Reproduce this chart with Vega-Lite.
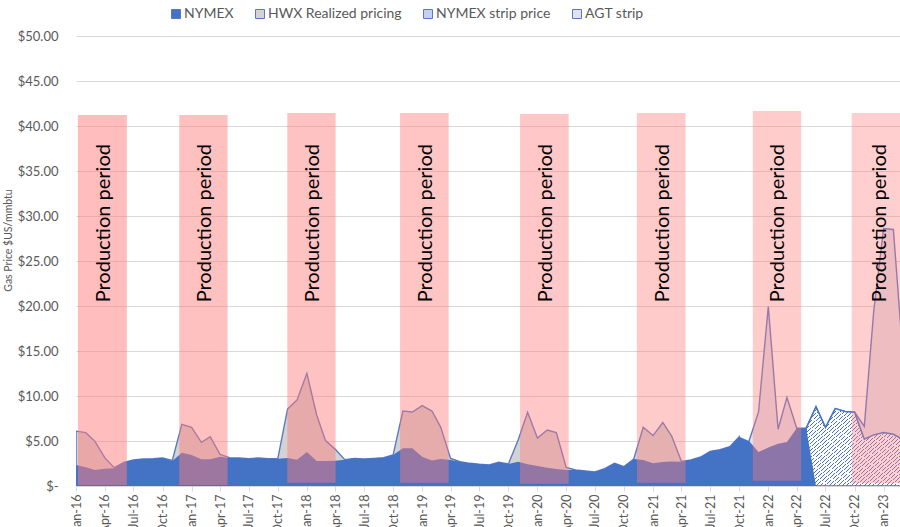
{
  "$schema": "https://vega.github.io/schema/vega-lite/v6.json",
  "width": 824,
  "height": 450,
  "autosize": {"type": "none"},
  "padding": {"left": 76, "top": 36, "right": 0, "bottom": 41},
  "background": "white",
  "config": {
    "view": {"stroke": null},
    "font": "Lato",
    "axis": {"labelFont": "Lato", "titleFont": "Lato", "labelColor": "#595959", "titleColor": "#595959"}
  },
  "datasets": {
    "prices": [
      {"month": "2016-01-01", "series": "NYMEX", "price": 2.33},
      {"month": "2016-02-01", "series": "NYMEX", "price": 2.07},
      {"month": "2016-03-01", "series": "NYMEX", "price": 1.78},
      {"month": "2016-04-01", "series": "NYMEX", "price": 1.93},
      {"month": "2016-05-01", "series": "NYMEX", "price": 1.96},
      {"month": "2016-06-01", "series": "NYMEX", "price": 2.63},
      {"month": "2016-07-01", "series": "NYMEX", "price": 2.89},
      {"month": "2016-08-01", "series": "NYMEX", "price": 3.0},
      {"month": "2016-09-01", "series": "NYMEX", "price": 3.04},
      {"month": "2016-10-01", "series": "NYMEX", "price": 3.11},
      {"month": "2016-11-01", "series": "NYMEX", "price": 2.78},
      {"month": "2016-12-01", "series": "NYMEX", "price": 3.7},
      {"month": "2017-01-01", "series": "NYMEX", "price": 3.44},
      {"month": "2017-02-01", "series": "NYMEX", "price": 2.96},
      {"month": "2017-03-01", "series": "NYMEX", "price": 2.96},
      {"month": "2017-04-01", "series": "NYMEX", "price": 3.26},
      {"month": "2017-05-01", "series": "NYMEX", "price": 3.11},
      {"month": "2017-06-01", "series": "NYMEX", "price": 3.11},
      {"month": "2017-07-01", "series": "NYMEX", "price": 3.04},
      {"month": "2017-08-01", "series": "NYMEX", "price": 3.11},
      {"month": "2017-09-01", "series": "NYMEX", "price": 3.04},
      {"month": "2017-10-01", "series": "NYMEX", "price": 3.04},
      {"month": "2017-11-01", "series": "NYMEX", "price": 3.1},
      {"month": "2017-12-01", "series": "NYMEX", "price": 2.93},
      {"month": "2018-01-01", "series": "NYMEX", "price": 3.78},
      {"month": "2018-02-01", "series": "NYMEX", "price": 2.78},
      {"month": "2018-03-01", "series": "NYMEX", "price": 2.78},
      {"month": "2018-04-01", "series": "NYMEX", "price": 2.8},
      {"month": "2018-05-01", "series": "NYMEX", "price": 2.93},
      {"month": "2018-06-01", "series": "NYMEX", "price": 3.07},
      {"month": "2018-07-01", "series": "NYMEX", "price": 3.0},
      {"month": "2018-08-01", "series": "NYMEX", "price": 3.07},
      {"month": "2018-09-01", "series": "NYMEX", "price": 3.15},
      {"month": "2018-10-01", "series": "NYMEX", "price": 3.44},
      {"month": "2018-11-01", "series": "NYMEX", "price": 4.19},
      {"month": "2018-12-01", "series": "NYMEX", "price": 4.19},
      {"month": "2019-01-01", "series": "NYMEX", "price": 3.26},
      {"month": "2019-02-01", "series": "NYMEX", "price": 2.82},
      {"month": "2019-03-01", "series": "NYMEX", "price": 3.0},
      {"month": "2019-04-01", "series": "NYMEX", "price": 2.89},
      {"month": "2019-05-01", "series": "NYMEX", "price": 2.7},
      {"month": "2019-06-01", "series": "NYMEX", "price": 2.52},
      {"month": "2019-07-01", "series": "NYMEX", "price": 2.41},
      {"month": "2019-08-01", "series": "NYMEX", "price": 2.33},
      {"month": "2019-09-01", "series": "NYMEX", "price": 2.63},
      {"month": "2019-10-01", "series": "NYMEX", "price": 2.44},
      {"month": "2019-11-01", "series": "NYMEX", "price": 2.7},
      {"month": "2019-12-01", "series": "NYMEX", "price": 2.41},
      {"month": "2020-01-01", "series": "NYMEX", "price": 2.22},
      {"month": "2020-02-01", "series": "NYMEX", "price": 2.04},
      {"month": "2020-03-01", "series": "NYMEX", "price": 1.89},
      {"month": "2020-04-01", "series": "NYMEX", "price": 1.78},
      {"month": "2020-05-01", "series": "NYMEX", "price": 1.78},
      {"month": "2020-06-01", "series": "NYMEX", "price": 1.67},
      {"month": "2020-07-01", "series": "NYMEX", "price": 1.56},
      {"month": "2020-08-01", "series": "NYMEX", "price": 1.93},
      {"month": "2020-09-01", "series": "NYMEX", "price": 2.52},
      {"month": "2020-10-01", "series": "NYMEX", "price": 2.15},
      {"month": "2020-11-01", "series": "NYMEX", "price": 3.0},
      {"month": "2020-12-01", "series": "NYMEX", "price": 2.89},
      {"month": "2021-01-01", "series": "NYMEX", "price": 2.52},
      {"month": "2021-02-01", "series": "NYMEX", "price": 2.67},
      {"month": "2021-03-01", "series": "NYMEX", "price": 2.72},
      {"month": "2021-04-01", "series": "NYMEX", "price": 2.7},
      {"month": "2021-05-01", "series": "NYMEX", "price": 2.89},
      {"month": "2021-06-01", "series": "NYMEX", "price": 3.22},
      {"month": "2021-07-01", "series": "NYMEX", "price": 3.85},
      {"month": "2021-08-01", "series": "NYMEX", "price": 4.03},
      {"month": "2021-09-01", "series": "NYMEX", "price": 4.37},
      {"month": "2021-10-01", "series": "NYMEX", "price": 5.48},
      {"month": "2021-11-01", "series": "NYMEX", "price": 5.0},
      {"month": "2021-12-01", "series": "NYMEX", "price": 3.78},
      {"month": "2022-01-01", "series": "NYMEX", "price": 4.28},
      {"month": "2022-02-01", "series": "NYMEX", "price": 4.7},
      {"month": "2022-03-01", "series": "NYMEX", "price": 4.9},
      {"month": "2022-04-01", "series": "NYMEX", "price": 6.41},
      {"month": "2022-05-01", "series": "NYMEX", "price": 6.41},
      {"month": "2022-06-01", "series": "NYMEX", "price": 0},

      {"month": "2016-01-01", "series": "HWX Realized pricing", "price": 6.1},
      {"month": "2016-02-01", "series": "HWX Realized pricing", "price": 5.93},
      {"month": "2016-03-01", "series": "HWX Realized pricing", "price": 4.96},
      {"month": "2016-04-01", "series": "HWX Realized pricing", "price": 3.15},
      {"month": "2016-05-01", "series": "HWX Realized pricing", "price": 2.04},
      {"month": "2016-06-01", "series": "HWX Realized pricing", "price": 2.63},
      {"month": "2016-07-01", "series": "HWX Realized pricing", "price": 2.89},
      {"month": "2016-08-01", "series": "HWX Realized pricing", "price": 3.0},
      {"month": "2016-09-01", "series": "HWX Realized pricing", "price": 3.04},
      {"month": "2016-10-01", "series": "HWX Realized pricing", "price": 3.11},
      {"month": "2016-11-01", "series": "HWX Realized pricing", "price": 2.85},
      {"month": "2016-12-01", "series": "HWX Realized pricing", "price": 6.85},
      {"month": "2017-01-01", "series": "HWX Realized pricing", "price": 6.52},
      {"month": "2017-02-01", "series": "HWX Realized pricing", "price": 4.85},
      {"month": "2017-03-01", "series": "HWX Realized pricing", "price": 5.48},
      {"month": "2017-04-01", "series": "HWX Realized pricing", "price": 3.52},
      {"month": "2017-05-01", "series": "HWX Realized pricing", "price": 3.15},
      {"month": "2017-06-01", "series": "HWX Realized pricing", "price": 3.11},
      {"month": "2017-07-01", "series": "HWX Realized pricing", "price": 3.04},
      {"month": "2017-08-01", "series": "HWX Realized pricing", "price": 3.11},
      {"month": "2017-09-01", "series": "HWX Realized pricing", "price": 3.04},
      {"month": "2017-10-01", "series": "HWX Realized pricing", "price": 3.04},
      {"month": "2017-11-01", "series": "HWX Realized pricing", "price": 8.56},
      {"month": "2017-12-01", "series": "HWX Realized pricing", "price": 9.56},
      {"month": "2018-01-01", "series": "HWX Realized pricing", "price": 12.52},
      {"month": "2018-02-01", "series": "HWX Realized pricing", "price": 7.89},
      {"month": "2018-03-01", "series": "HWX Realized pricing", "price": 5.04},
      {"month": "2018-04-01", "series": "HWX Realized pricing", "price": 4.07},
      {"month": "2018-05-01", "series": "HWX Realized pricing", "price": 2.93},
      {"month": "2018-06-01", "series": "HWX Realized pricing", "price": 3.07},
      {"month": "2018-07-01", "series": "HWX Realized pricing", "price": 3.0},
      {"month": "2018-08-01", "series": "HWX Realized pricing", "price": 3.07},
      {"month": "2018-09-01", "series": "HWX Realized pricing", "price": 3.15},
      {"month": "2018-10-01", "series": "HWX Realized pricing", "price": 3.44},
      {"month": "2018-11-01", "series": "HWX Realized pricing", "price": 8.33},
      {"month": "2018-12-01", "series": "HWX Realized pricing", "price": 8.22},
      {"month": "2019-01-01", "series": "HWX Realized pricing", "price": 8.93},
      {"month": "2019-02-01", "series": "HWX Realized pricing", "price": 8.33},
      {"month": "2019-03-01", "series": "HWX Realized pricing", "price": 6.52},
      {"month": "2019-04-01", "series": "HWX Realized pricing", "price": 3.07},
      {"month": "2019-05-01", "series": "HWX Realized pricing", "price": 2.7},
      {"month": "2019-06-01", "series": "HWX Realized pricing", "price": 2.52},
      {"month": "2019-07-01", "series": "HWX Realized pricing", "price": 2.41},
      {"month": "2019-08-01", "series": "HWX Realized pricing", "price": 2.33},
      {"month": "2019-09-01", "series": "HWX Realized pricing", "price": 2.63},
      {"month": "2019-10-01", "series": "HWX Realized pricing", "price": 2.44},
      {"month": "2019-11-01", "series": "HWX Realized pricing", "price": 5.1},
      {"month": "2019-12-01", "series": "HWX Realized pricing", "price": 8.19},
      {"month": "2020-01-01", "series": "HWX Realized pricing", "price": 5.33},
      {"month": "2020-02-01", "series": "HWX Realized pricing", "price": 6.22},
      {"month": "2020-03-01", "series": "HWX Realized pricing", "price": 5.95},
      {"month": "2020-04-01", "series": "HWX Realized pricing", "price": 2.07},
      {"month": "2020-05-01", "series": "HWX Realized pricing", "price": 1.78},
      {"month": "2020-06-01", "series": "HWX Realized pricing", "price": 1.67},
      {"month": "2020-07-01", "series": "HWX Realized pricing", "price": 1.56},
      {"month": "2020-08-01", "series": "HWX Realized pricing", "price": 1.93},
      {"month": "2020-09-01", "series": "HWX Realized pricing", "price": 2.52},
      {"month": "2020-10-01", "series": "HWX Realized pricing", "price": 2.15},
      {"month": "2020-11-01", "series": "HWX Realized pricing", "price": 3.0},
      {"month": "2020-12-01", "series": "HWX Realized pricing", "price": 6.52},
      {"month": "2021-01-01", "series": "HWX Realized pricing", "price": 5.6},
      {"month": "2021-02-01", "series": "HWX Realized pricing", "price": 7.06},
      {"month": "2021-03-01", "series": "HWX Realized pricing", "price": 5.55},
      {"month": "2021-04-01", "series": "HWX Realized pricing", "price": 2.72},
      {"month": "2021-05-01", "series": "HWX Realized pricing", "price": 2.89},
      {"month": "2021-06-01", "series": "HWX Realized pricing", "price": 3.22},
      {"month": "2021-07-01", "series": "HWX Realized pricing", "price": 3.85},
      {"month": "2021-08-01", "series": "HWX Realized pricing", "price": 4.03},
      {"month": "2021-09-01", "series": "HWX Realized pricing", "price": 4.37},
      {"month": "2021-10-01", "series": "HWX Realized pricing", "price": 5.48},

      {"month": "2021-11-01", "series": "AGT strip", "price": 5.0},
      {"month": "2021-12-01", "series": "AGT strip", "price": 8.2},
      {"month": "2022-01-01", "series": "AGT strip", "price": 19.95},
      {"month": "2022-02-01", "series": "AGT strip", "price": 6.3},
      {"month": "2022-03-01", "series": "AGT strip", "price": 9.85},
      {"month": "2022-04-01", "series": "AGT strip", "price": 6.41},
      {"month": "2022-05-01", "series": "AGT strip", "price": 6.41},
      {"month": "2022-06-01", "series": "AGT strip", "price": 8.81},
      {"month": "2022-07-01", "series": "AGT strip", "price": 6.5},
      {"month": "2022-08-01", "series": "AGT strip", "price": 8.6},
      {"month": "2022-09-01", "series": "AGT strip", "price": 8.28},
      {"month": "2022-10-01", "series": "AGT strip", "price": 8.22},
      {"month": "2022-11-01", "series": "AGT strip", "price": 6.62},
      {"month": "2022-12-01", "series": "AGT strip", "price": 19.5},
      {"month": "2023-01-01", "series": "AGT strip", "price": 28.6},
      {"month": "2023-02-01", "series": "AGT strip", "price": 28.5},
      {"month": "2023-03-01", "series": "AGT strip", "price": 15.5},

      {"month": "2022-05-01", "series": "NYMEX strip price", "price": 6.41},
      {"month": "2022-06-01", "series": "NYMEX strip price", "price": 8.81},
      {"month": "2022-07-01", "series": "NYMEX strip price", "price": 6.5},
      {"month": "2022-08-01", "series": "NYMEX strip price", "price": 8.6},
      {"month": "2022-09-01", "series": "NYMEX strip price", "price": 8.28},
      {"month": "2022-10-01", "series": "NYMEX strip price", "price": 8.2},
      {"month": "2022-11-01", "series": "NYMEX strip price", "price": 5.2},
      {"month": "2022-12-01", "series": "NYMEX strip price", "price": 5.68},
      {"month": "2023-01-01", "series": "NYMEX strip price", "price": 5.95},
      {"month": "2023-02-01", "series": "NYMEX strip price", "price": 5.75},
      {"month": "2023-03-01", "series": "NYMEX strip price", "price": 5.2}
    ],
    "periods": [
      {"period": "P1", "start": "2016-01-07", "end": "2016-06-10", "low": 0.11, "high": 41.22, "mid": "2016-03-30"},
      {"period": "P2", "start": "2016-11-23", "end": "2017-04-25", "low": 0.11, "high": 41.22, "mid": "2017-02-13"},
      {"period": "P3", "start": "2017-10-31", "end": "2018-04-02", "low": 0.37, "high": 41.44, "mid": "2018-01-21"},
      {"period": "P4", "start": "2018-10-23", "end": "2019-03-26", "low": 0.37, "high": 41.44, "mid": "2019-01-13"},
      {"period": "P5", "start": "2019-11-07", "end": "2020-04-09", "low": 0.26, "high": 41.33, "mid": "2020-01-29"},
      {"period": "P6", "start": "2020-11-11", "end": "2021-04-14", "low": 0.37, "high": 41.44, "mid": "2021-02-01"},
      {"period": "P7", "start": "2021-11-13", "end": "2022-04-15", "low": 0.59, "high": 41.67, "mid": "2022-02-02"},
      {"period": "P8", "start": "2022-09-22", "end": "2023-02-24", "low": 0.3, "high": 41.44, "mid": "2022-12-21"}
    ]
  },
  "data": {"name": "prices"},
  "encoding": {
    "x": {
      "field": "month",
      "type": "temporal",
      "scale": {"type": "utc", "domain": [{"year": 2016, "month": 1, "date": 1, "utc": true}, {"year": 2023, "month": 2, "date": 22, "utc": true}]},
      "axis": {
        "title": null,
        "format": "%b-%y",
        "tickCount": {"interval": "month", "step": 3},
        "labelAngle": 270,
        "labelAlign": "right",
        "labelBaseline": "middle",
        "labelFontSize": 12.5,
        "labelPadding": 3,
        "labelOverlap": false,
        "labelFlush": false,
        "labelBound": false,
        "grid": false,
        "domainColor": "#D9D9D9",
        "tickColor": "#D9D9D9",
        "tickSize": 5
      }
    }
  },
  "layer": [
    {
      "transform": [{"filter": "datum.series === 'HWX Realized pricing'"}],
      "mark": {"type": "area", "stroke": "#5A78C6", "strokeWidth": 1.4, "clip": true},
      "encoding": {
        "y": {
          "field": "price",
          "type": "quantitative",
          "scale": {"domain": [0, 50], "nice": false},
          "axis": {
            "title": "Gas Price $US/mmbtu",
            "titleFontSize": 10.5,
            "titleFontWeight": "normal",
            "titleX": -68,
            "titleY": 204,
            "titleAngle": 270,
            "titleAlign": "center",
            "titleBaseline": "middle",
            "values": [0, 5, 10, 15, 20, 25, 30, 35, 40, 45, 50],
            "labelExpr": "datum.value === 0 ? '$-\u00a0\u00a0' : '$' + format(datum.value, '.2f')",
            "labelFontSize": 13,
            "labelPadding": 18,
            "ticks": false,
            "domain": false,
            "grid": true,
            "gridColor": "#D9D9D9",
            "gridWidth": 1
          }
        },
        "color": {
          "field": "series",
          "type": "nominal",
          "scale": {
            "domain": ["NYMEX", "HWX Realized pricing", "NYMEX strip price", "AGT strip"],
            "range": ["#4472C4", "#D3D3D3", "#C3D1EE", "#E2E2EA"]
          },
          "legend": {
            "title": null,
            "orient": "none",
            "legendX": 93,
            "legendY": -29,
            "direction": "horizontal",
            "symbolType": "square",
            "symbolSize": 81,
            "symbolStrokeWidth": 1,
            "symbolStrokeColor": "#7A8CC8",
            "symbolOpacity": 1,
            "labelFont": "Lato",
            "labelFontSize": 14,
            "labelColor": "#595959",
            "labelOffset": 1,
            "columnPadding": 19
          }
        }
      }
    },
    {
      "transform": [{"filter": "datum.series === 'AGT strip'"}],
      "mark": {"type": "area", "stroke": "#5A78C6", "strokeWidth": 1.4, "clip": true},
      "encoding": {
        "y": {"field": "price", "type": "quantitative"},
        "color": {"field": "series", "type": "nominal"}
      }
    },
    {
      "transform": [{"filter": "datum.series === 'NYMEX strip price'"}],
      "mark": {
        "type": "area",
        "stroke": "#4472C4",
        "strokeWidth": 1.5,
        "clip": true,
        "fill": {
          "gradient": "linear", "x1": 0, "y1": 0, "x2": 1, "y2": 1,
          "stops": [
            {"offset": 0, "color": "#4472C4"}, {"offset": 0.0050, "color": "#4472C4"}, {"offset": 0.0050, "color": "#FFFFFF"}, {"offset": 0.0227, "color": "#FFFFFF"},
            {"offset": 0.0227, "color": "#4472C4"}, {"offset": 0.0277, "color": "#4472C4"}, {"offset": 0.0277, "color": "#FFFFFF"}, {"offset": 0.0455, "color": "#FFFFFF"},
            {"offset": 0.0455, "color": "#4472C4"}, {"offset": 0.0505, "color": "#4472C4"}, {"offset": 0.0505, "color": "#FFFFFF"}, {"offset": 0.0682, "color": "#FFFFFF"},
            {"offset": 0.0682, "color": "#4472C4"}, {"offset": 0.0732, "color": "#4472C4"}, {"offset": 0.0732, "color": "#FFFFFF"}, {"offset": 0.0909, "color": "#FFFFFF"},
            {"offset": 0.0909, "color": "#4472C4"}, {"offset": 0.0959, "color": "#4472C4"}, {"offset": 0.0959, "color": "#FFFFFF"}, {"offset": 0.1136, "color": "#FFFFFF"},
            {"offset": 0.1136, "color": "#4472C4"}, {"offset": 0.1186, "color": "#4472C4"}, {"offset": 0.1186, "color": "#FFFFFF"}, {"offset": 0.1364, "color": "#FFFFFF"},
            {"offset": 0.1364, "color": "#4472C4"}, {"offset": 0.1414, "color": "#4472C4"}, {"offset": 0.1414, "color": "#FFFFFF"}, {"offset": 0.1591, "color": "#FFFFFF"},
            {"offset": 0.1591, "color": "#4472C4"}, {"offset": 0.1641, "color": "#4472C4"}, {"offset": 0.1641, "color": "#FFFFFF"}, {"offset": 0.1818, "color": "#FFFFFF"},
            {"offset": 0.1818, "color": "#4472C4"}, {"offset": 0.1868, "color": "#4472C4"}, {"offset": 0.1868, "color": "#FFFFFF"}, {"offset": 0.2045, "color": "#FFFFFF"},
            {"offset": 0.2045, "color": "#4472C4"}, {"offset": 0.2095, "color": "#4472C4"}, {"offset": 0.2095, "color": "#FFFFFF"}, {"offset": 0.2273, "color": "#FFFFFF"},
            {"offset": 0.2273, "color": "#4472C4"}, {"offset": 0.2323, "color": "#4472C4"}, {"offset": 0.2323, "color": "#FFFFFF"}, {"offset": 0.2500, "color": "#FFFFFF"},
            {"offset": 0.2500, "color": "#4472C4"}, {"offset": 0.2550, "color": "#4472C4"}, {"offset": 0.2550, "color": "#FFFFFF"}, {"offset": 0.2727, "color": "#FFFFFF"},
            {"offset": 0.2727, "color": "#4472C4"}, {"offset": 0.2777, "color": "#4472C4"}, {"offset": 0.2777, "color": "#FFFFFF"}, {"offset": 0.2955, "color": "#FFFFFF"},
            {"offset": 0.2955, "color": "#4472C4"}, {"offset": 0.3005, "color": "#4472C4"}, {"offset": 0.3005, "color": "#FFFFFF"}, {"offset": 0.3182, "color": "#FFFFFF"},
            {"offset": 0.3182, "color": "#4472C4"}, {"offset": 0.3232, "color": "#4472C4"}, {"offset": 0.3232, "color": "#FFFFFF"}, {"offset": 0.3409, "color": "#FFFFFF"},
            {"offset": 0.3409, "color": "#4472C4"}, {"offset": 0.3459, "color": "#4472C4"}, {"offset": 0.3459, "color": "#FFFFFF"}, {"offset": 0.3636, "color": "#FFFFFF"},
            {"offset": 0.3636, "color": "#4472C4"}, {"offset": 0.3686, "color": "#4472C4"}, {"offset": 0.3686, "color": "#FFFFFF"}, {"offset": 0.3864, "color": "#FFFFFF"},
            {"offset": 0.3864, "color": "#4472C4"}, {"offset": 0.3914, "color": "#4472C4"}, {"offset": 0.3914, "color": "#FFFFFF"}, {"offset": 0.4091, "color": "#FFFFFF"},
            {"offset": 0.4091, "color": "#4472C4"}, {"offset": 0.4141, "color": "#4472C4"}, {"offset": 0.4141, "color": "#FFFFFF"}, {"offset": 0.4318, "color": "#FFFFFF"},
            {"offset": 0.4318, "color": "#4472C4"}, {"offset": 0.4368, "color": "#4472C4"}, {"offset": 0.4368, "color": "#FFFFFF"}, {"offset": 0.4545, "color": "#FFFFFF"},
            {"offset": 0.4545, "color": "#4472C4"}, {"offset": 0.4595, "color": "#4472C4"}, {"offset": 0.4595, "color": "#FFFFFF"}, {"offset": 0.4773, "color": "#FFFFFF"},
            {"offset": 0.4773, "color": "#4472C4"}, {"offset": 0.4823, "color": "#4472C4"}, {"offset": 0.4823, "color": "#FFFFFF"}, {"offset": 0.5000, "color": "#FFFFFF"},
            {"offset": 0.5000, "color": "#4472C4"}, {"offset": 0.5050, "color": "#4472C4"}, {"offset": 0.5050, "color": "#FFFFFF"}, {"offset": 0.5227, "color": "#FFFFFF"},
            {"offset": 0.5227, "color": "#4472C4"}, {"offset": 0.5277, "color": "#4472C4"}, {"offset": 0.5277, "color": "#FFFFFF"}, {"offset": 0.5455, "color": "#FFFFFF"},
            {"offset": 0.5455, "color": "#4472C4"}, {"offset": 0.5505, "color": "#4472C4"}, {"offset": 0.5505, "color": "#FFFFFF"}, {"offset": 0.5682, "color": "#FFFFFF"},
            {"offset": 0.5682, "color": "#4472C4"}, {"offset": 0.5732, "color": "#4472C4"}, {"offset": 0.5732, "color": "#FFFFFF"}, {"offset": 0.5909, "color": "#FFFFFF"},
            {"offset": 0.5909, "color": "#4472C4"}, {"offset": 0.5959, "color": "#4472C4"}, {"offset": 0.5959, "color": "#FFFFFF"}, {"offset": 0.6136, "color": "#FFFFFF"},
            {"offset": 0.6136, "color": "#4472C4"}, {"offset": 0.6186, "color": "#4472C4"}, {"offset": 0.6186, "color": "#FFFFFF"}, {"offset": 0.6364, "color": "#FFFFFF"},
            {"offset": 0.6364, "color": "#4472C4"}, {"offset": 0.6414, "color": "#4472C4"}, {"offset": 0.6414, "color": "#FFFFFF"}, {"offset": 0.6591, "color": "#FFFFFF"},
            {"offset": 0.6591, "color": "#4472C4"}, {"offset": 0.6641, "color": "#4472C4"}, {"offset": 0.6641, "color": "#FFFFFF"}, {"offset": 0.6818, "color": "#FFFFFF"},
            {"offset": 0.6818, "color": "#4472C4"}, {"offset": 0.6868, "color": "#4472C4"}, {"offset": 0.6868, "color": "#FFFFFF"}, {"offset": 0.7045, "color": "#FFFFFF"},
            {"offset": 0.7045, "color": "#4472C4"}, {"offset": 0.7095, "color": "#4472C4"}, {"offset": 0.7095, "color": "#FFFFFF"}, {"offset": 0.7273, "color": "#FFFFFF"},
            {"offset": 0.7273, "color": "#4472C4"}, {"offset": 0.7323, "color": "#4472C4"}, {"offset": 0.7323, "color": "#FFFFFF"}, {"offset": 0.7500, "color": "#FFFFFF"},
            {"offset": 0.7500, "color": "#4472C4"}, {"offset": 0.7550, "color": "#4472C4"}, {"offset": 0.7550, "color": "#FFFFFF"}, {"offset": 0.7727, "color": "#FFFFFF"},
            {"offset": 0.7727, "color": "#4472C4"}, {"offset": 0.7777, "color": "#4472C4"}, {"offset": 0.7777, "color": "#FFFFFF"}, {"offset": 0.7955, "color": "#FFFFFF"},
            {"offset": 0.7955, "color": "#4472C4"}, {"offset": 0.8005, "color": "#4472C4"}, {"offset": 0.8005, "color": "#FFFFFF"}, {"offset": 0.8182, "color": "#FFFFFF"},
            {"offset": 0.8182, "color": "#4472C4"}, {"offset": 0.8232, "color": "#4472C4"}, {"offset": 0.8232, "color": "#FFFFFF"}, {"offset": 0.8409, "color": "#FFFFFF"},
            {"offset": 0.8409, "color": "#4472C4"}, {"offset": 0.8459, "color": "#4472C4"}, {"offset": 0.8459, "color": "#FFFFFF"}, {"offset": 0.8636, "color": "#FFFFFF"},
            {"offset": 0.8636, "color": "#4472C4"}, {"offset": 0.8686, "color": "#4472C4"}, {"offset": 0.8686, "color": "#FFFFFF"}, {"offset": 0.8864, "color": "#FFFFFF"},
            {"offset": 0.8864, "color": "#4472C4"}, {"offset": 0.8914, "color": "#4472C4"}, {"offset": 0.8914, "color": "#FFFFFF"}, {"offset": 0.9091, "color": "#FFFFFF"},
            {"offset": 0.9091, "color": "#4472C4"}, {"offset": 0.9141, "color": "#4472C4"}, {"offset": 0.9141, "color": "#FFFFFF"}, {"offset": 0.9318, "color": "#FFFFFF"},
            {"offset": 0.9318, "color": "#4472C4"}, {"offset": 0.9368, "color": "#4472C4"}, {"offset": 0.9368, "color": "#FFFFFF"}, {"offset": 0.9545, "color": "#FFFFFF"},
            {"offset": 0.9545, "color": "#4472C4"}, {"offset": 0.9595, "color": "#4472C4"}, {"offset": 0.9595, "color": "#FFFFFF"}, {"offset": 0.9773, "color": "#FFFFFF"},
            {"offset": 0.9773, "color": "#4472C4"}, {"offset": 0.9823, "color": "#4472C4"}, {"offset": 0.9823, "color": "#FFFFFF"}, {"offset": 1, "color": "#FFFFFF"}
          ]
        }
      },
      "encoding": {
        "y": {"field": "price", "type": "quantitative"}
      }
    },
    {
      "transform": [{"filter": "datum.series === 'NYMEX'"}],
      "mark": {"type": "area", "clip": true},
      "encoding": {
        "y": {"field": "price", "type": "quantitative"},
        "color": {"field": "series", "type": "nominal"}
      }
    },
    {
      "data": {"name": "periods"},
      "mark": {"type": "rect", "color": "#FF7C7C", "clip": true},
      "encoding": {
        "x": {"field": "start", "type": "temporal"},
        "x2": {"field": "end"},
        "y": {"field": "low", "type": "quantitative"},
        "y2": {"field": "high"},
        "opacity": {
          "field": "period",
          "type": "ordinal",
          "scale": {"domain": ["P1", "P2", "P3", "P4", "P5", "P6", "P7", "P8"], "range": [0.5, 0.37, 0.45, 0.5, 0.47, 0.55, 0.6, 0.57]},
          "legend": null
        }
      }
    },
    {
      "data": {"name": "periods"},
      "mark": {"type": "text", "text": "Production period", "angle": 270, "align": "center", "baseline": "middle", "font": "Lato", "fontSize": 20, "color": "#000000", "clip": true},
      "encoding": {
        "x": {"field": "mid", "type": "temporal"},
        "y": {"datum": 29.2, "type": "quantitative"}
      }
    }
  ]
}
